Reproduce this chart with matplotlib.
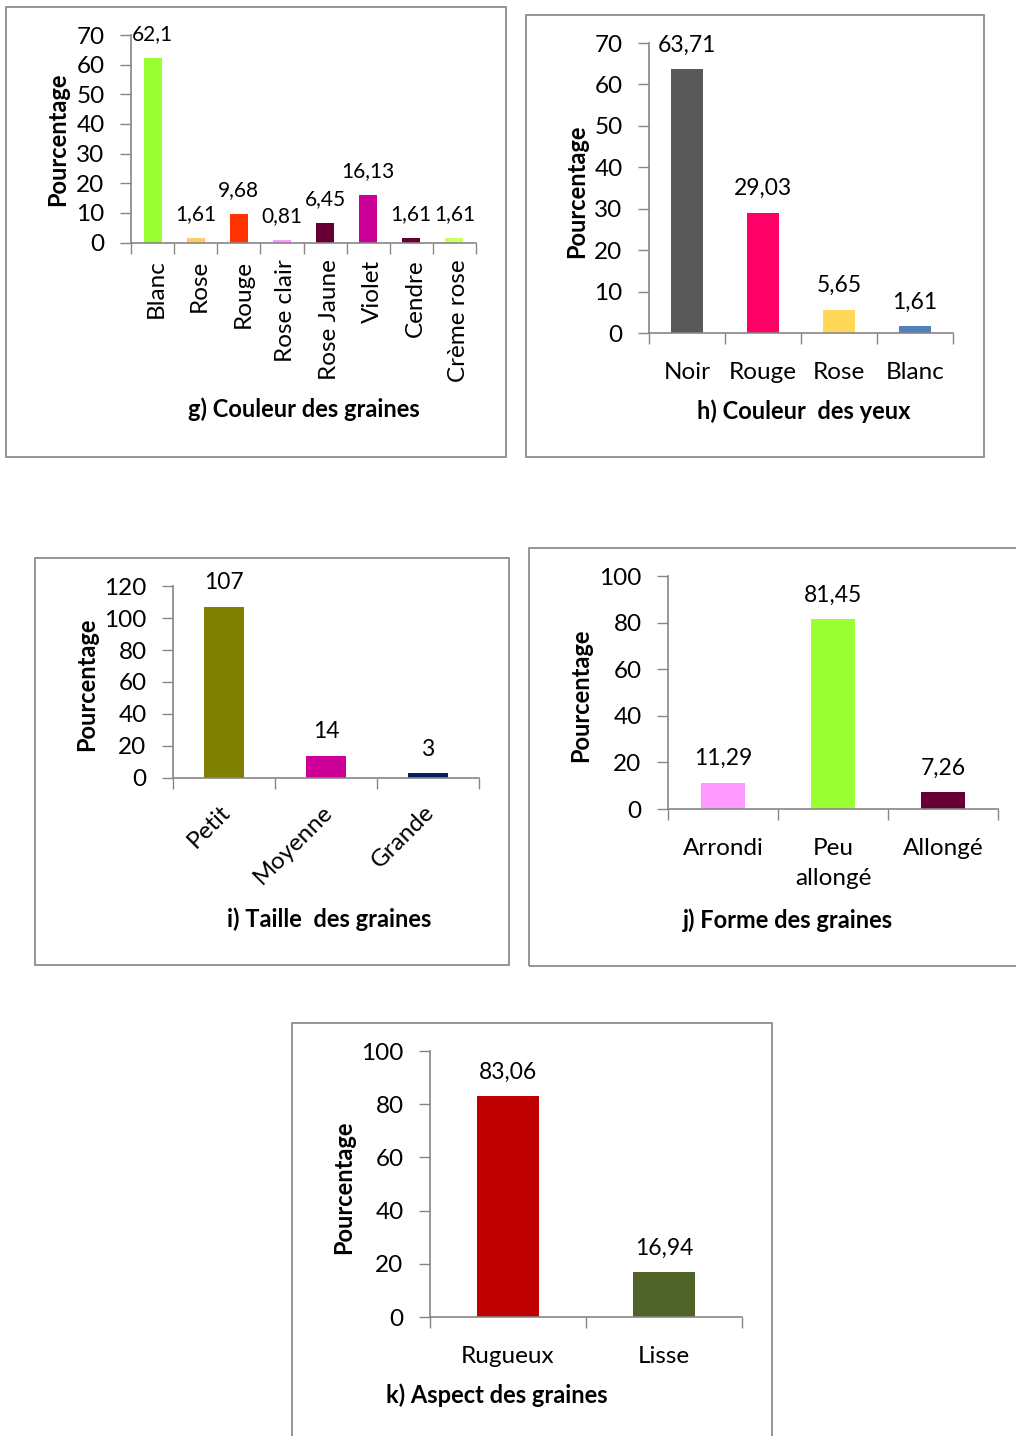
import matplotlib
matplotlib.use("Agg")
import matplotlib.pyplot as plt
from matplotlib.patches import Rectangle

plt.rcParams['font.family'] = ['Lato', 'DejaVu Sans']

# ---- data ----
g_cats = ["Blanc", "Rose", "Rouge", "Rose clair", "Rose Jaune", "Violet", "Cendre", "Crème rose"]
g_vals = [62.1, 1.61, 9.68, 0.81, 6.45, 16.13, 1.61, 1.61]
g_cols = ["#99FF33", "#FFCC66", "#FF3300", "#FF99FF", "#660033", "#CC0099", "#660033", "#CCFF66"]
g_ticks = [0, 10, 20, 30, 40, 50, 60, 70]

h_cats = ["Noir", "Rouge", "Rose", "Blanc"]
h_vals = [63.71, 29.03, 5.65, 1.61]
h_cols = ["#595959", "#FF0066", "#FFD85A", "#4F81BD"]
h_ticks = [0, 10, 20, 30, 40, 50, 60, 70]

i_cats = ["Petit", "Moyenne", "Grande"]
i_vals = [107, 14, 3]
i_cols = ["#808000", "#CC0099", "#002060"]
i_ticks = [0, 20, 40, 60, 80, 100, 120]

j_cats = ["Arrondi", "Peu\nallongé", "Allongé"]
j_vals = [11.29, 81.45, 7.26]
j_cols = ["#FF99FF", "#99FF33", "#660033"]
j_ticks = [0, 20, 40, 60, 80, 100]

k_cats = ["Rugueux", "Lisse"]
k_vals = [83.06, 16.94]
k_cols = ["#C00000", "#4F6228"]
k_ticks = [0, 20, 40, 60, 80, 100]

W, H = 1016, 1436
fig = plt.figure(figsize=(W / 100, H / 100), dpi=100)
AXC = "#868686"
BOXC = "#8C8C8C"
TICK_FS = 17.5
CAT_FS = 17.5
BOLD_FS = 17


def frame(x0, y0, x1, y1):
    fig.add_artist(Rectangle((x0 / W, 1 - y1 / H), (x1 - x0) / W, (y1 - y0) / H,
                             transform=fig.transFigure, fill=False,
                             edgecolor=BOXC, linewidth=1.3))


def fmt(v):
    return f"{v:g}".replace(".", ",")


def panel(left, right, ybase, ytop, cats, vals, cols, ticks, width,
          vsize, csize, cat_mode="flat", cat_dy=26, cat_dx=0):
    ax = fig.add_axes([left / W, 1 - ybase / H, (right - left) / W, (ybase - ytop) / H])
    n = len(cats)
    x = list(range(n))
    ax.bar(x, vals, width=width, color=cols, zorder=2)
    ax.set_xlim(-0.5, n - 0.5)
    ax.set_ylim(0, ticks[-1])
    ax.set_yticks(ticks)
    ax.set_yticklabels([str(t) for t in ticks], fontsize=TICK_FS)
    ax.tick_params(axis="y", direction="out", length=8, width=1, color=AXC, pad=11)
    ax.set_xticks([v - 0.5 for v in range(n + 1)])
    ax.set_xticklabels([])
    ax.tick_params(axis="x", direction="out", length=8, width=1, color=AXC)
    for s in ("top", "right"):
        ax.spines[s].set_visible(False)
    for s in ("left", "bottom"):
        ax.spines[s].set_color(AXC)
        ax.spines[s].set_linewidth(1.2)
    ax.patch.set_alpha(0)
    for xi, v in zip(x, vals):
        ax.annotate(fmt(v), xy=(xi, v), xytext=(0, 24), textcoords="offset pixels",
                    ha="center", va="center", fontsize=vsize, annotation_clip=False)
    for xi, c in zip(x, cats):
        if cat_mode == "flat":
            ax.annotate(c, xy=(xi, 0), xytext=(cat_dx, -cat_dy), textcoords="offset pixels",
                        ha="center", va="top", fontsize=csize, linespacing=1.5,
                        annotation_clip=False)
        elif cat_mode == "vert":
            ax.annotate(c, xy=(xi, 0), xytext=(cat_dx, -cat_dy), textcoords="offset pixels",
                        ha="center", va="top", rotation=90, fontsize=csize,
                        annotation_clip=False)
        else:
            ax.annotate(c, xy=(xi, 0), xytext=(cat_dx, -cat_dy), textcoords="offset pixels",
                        ha="right", va="center", rotation=45, rotation_mode="anchor",
                        fontsize=csize, annotation_clip=False)
    return ax


def ftext(x, y, s, **kw):
    fig.text(x / W, 1 - y / H, s, ha="center", va="center", **kw)


# g) seed colour
frame(6, 7, 506, 457)
panel(131, 476, 242.5, 35, g_cats, g_vals, g_cols, g_ticks, 0.42,
      vsize=15, csize=CAT_FS, cat_mode="vert", cat_dy=17, cat_dx=4)
ftext(58, 139, "Pourcentage", rotation=90, fontsize=BOLD_FS, fontweight="bold")
ftext(304, 409, "g) Couleur des graines", fontsize=BOLD_FS, fontweight="bold")

# h) eye colour
frame(526, 15, 984, 457)
panel(649, 953, 333, 43, h_cats, h_vals, h_cols, h_ticks, 0.41,
      vsize=16.5, csize=CAT_FS, cat_dy=29)
ftext(577, 191, "Pourcentage", rotation=90, fontsize=BOLD_FS, fontweight="bold")
ftext(804, 411, "h) Couleur  des yeux", fontsize=BOLD_FS, fontweight="bold")

# i) seed size
frame(35, 558, 509, 965)
panel(173, 479, 778, 586, i_cats, i_vals, i_cols, i_ticks, 0.39,
      vsize=16.5, csize=CAT_FS, cat_mode="diag", cat_dy=31, cat_dx=3)
ftext(87, 684, "Pourcentage", rotation=90, fontsize=BOLD_FS, fontweight="bold")
ftext(329, 919, "i) Taille  des graines", fontsize=BOLD_FS, fontweight="bold")

# j) seed shape
frame(529, 548, 1030, 966)
panel(668, 998, 809, 576, j_cats, j_vals, j_cols, j_ticks, 0.4,
      vsize=16.5, csize=CAT_FS, cat_dy=29)
ftext(581, 695, "Pourcentage", rotation=90, fontsize=BOLD_FS, fontweight="bold")
ftext(788, 920, "j) Forme des graines", fontsize=BOLD_FS, fontweight="bold")

# k) seed surface
frame(292, 1023, 772, 1450)
panel(430, 742, 1317, 1051, k_cats, k_vals, k_cols, k_ticks, 0.4,
      vsize=16.5, csize=CAT_FS, cat_dy=29)
ftext(344, 1187, "Pourcentage", rotation=90, fontsize=BOLD_FS, fontweight="bold")
ftext(497, 1395, "k) Aspect des graines", fontsize=BOLD_FS, fontweight="bold")

fig.savefig("out.png", dpi=100, facecolor="white")
